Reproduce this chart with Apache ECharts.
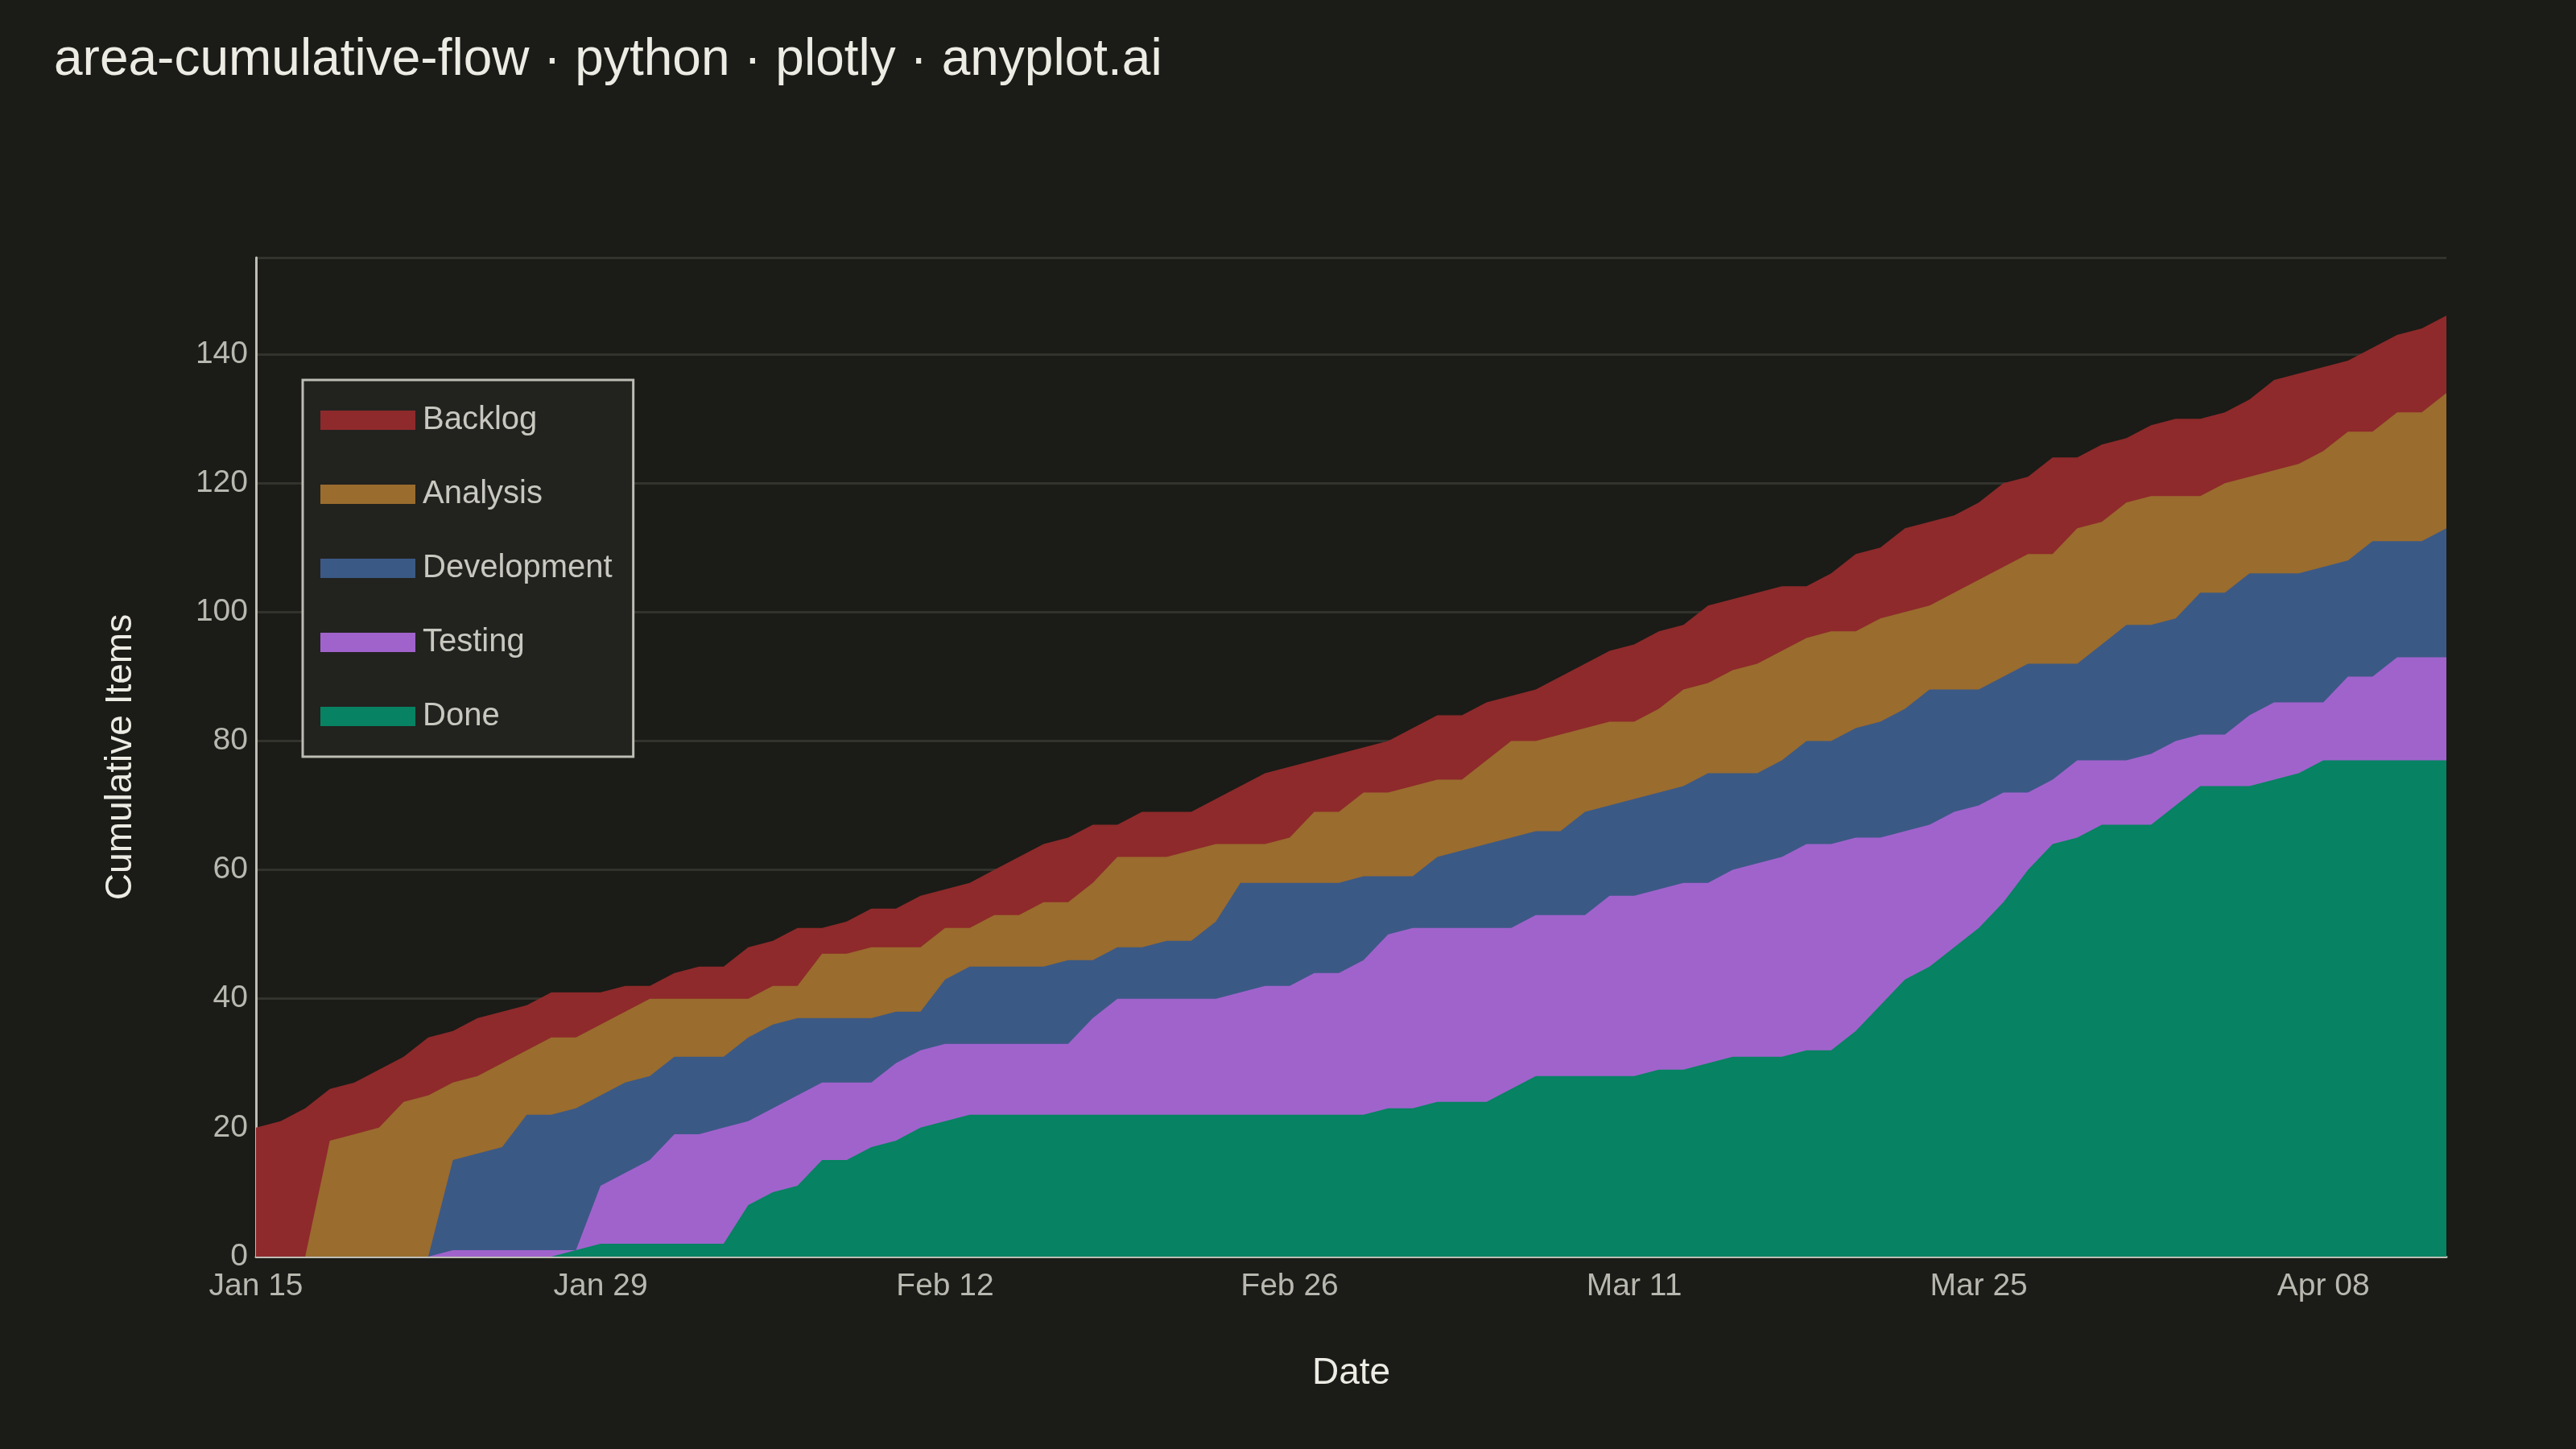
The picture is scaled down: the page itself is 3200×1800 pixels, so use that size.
<!DOCTYPE html>
<html>
<head>
<meta charset="utf-8">
<script src="https://cdn.jsdelivr.net/npm/echarts@6/dist/echarts.min.js"></script>
<style>
  html, body { margin: 0; padding: 0; background: #1B1B17; }
  #chart { width: 3200px; height: 1800px; }
</style>
</head>
<body>
<div id="chart"></div>
<script>
// daily dates, Jan 15 .. Apr 13 (90 days)
var startDate = new Date(2024, 0, 15);
var dayCount = 90;
var monthNames = ['Jan','Feb','Mar','Apr','May','Jun','Jul','Aug','Sep','Oct','Nov','Dec'];

// cumulative boundaries (top edge of each band)
var totalTop = [20,21,23,26,27,29,31,34,35,37,38,39,41,41,41,42,42,44,45,45,
  48,49,51,51,52,54,54,56,57,58,60,62,64,65,67,67,69,69,69,71,
  73,75,76,77,78,79,80,82,84,84,86,87,88,90,92,94,95,97,98,101,
  102,103,104,104,106,109,110,113,114,115,117,120,121,124,124,126,127,129,130,130,
  131,133,136,137,138,139,141,143,144,146];
var analysisTop = [0,0,0,18,19,20,24,25,27,28,30,32,34,34,36,38,40,40,40,40,
  40,42,42,47,47,48,48,48,51,51,53,53,55,55,58,62,62,62,63,64,
  64,64,65,69,69,72,72,73,74,74,77,80,80,81,82,83,83,85,88,89,
  91,92,94,96,97,97,99,100,101,103,105,107,109,109,113,114,117,118,118,118,
  120,121,122,123,125,128,128,131,131,134];
var developmentTop = [0,0,0,0,0,0,0,0,15,16,17,22,22,23,25,27,28,31,31,31,
  34,36,37,37,37,37,38,38,43,45,45,45,45,46,46,48,48,49,49,52,
  58,58,58,58,58,59,59,59,62,63,64,65,66,66,69,70,71,72,73,75,
  75,75,77,80,80,82,83,85,88,88,88,90,92,92,92,95,98,98,99,103,
  103,106,106,106,107,108,111,111,111,113];
var testingTop = [0,0,0,0,0,0,0,0,1,1,1,1,1,1,11,13,15,19,19,20,
  21,23,25,27,27,27,30,32,33,33,33,33,33,33,37,40,40,40,40,40,
  41,42,42,44,44,46,50,51,51,51,51,51,53,53,53,56,56,57,58,58,
  60,61,62,64,64,65,65,66,67,69,70,72,72,74,77,77,77,78,80,81,
  81,84,86,86,86,90,90,93,93,93];
var doneTop = [0,0,0,0,0,0,0,0,0,0,0,0,0,1,2,2,2,2,2,2,
  8,10,11,15,15,17,18,20,21,22,22,22,22,22,22,22,22,22,22,22,
  22,22,22,22,22,22,23,23,24,24,24,26,28,28,28,28,28,29,29,30,
  31,31,31,32,32,35,39,43,45,48,51,55,60,64,65,67,67,67,70,73,
  73,73,74,75,77,77,77,77,77,77];

var stageNames = ['Backlog', 'Analysis', 'Development', 'Testing', 'Done'];
var stageColors = ['#8E2A2B', '#9A6C2E', '#3B5985', '#A063CC', '#078262'];
var stageData = [totalTop, analysisTop, developmentTop, testingTop, doneTop];

var dates = [];
for (var i = 0; i < dayCount; i++) {
  var d = new Date(startDate.getTime() + i * 86400000);
  dates.push(monthNames[d.getMonth()] + ' ' + (d.getDate() < 10 ? '0' : '') + d.getDate());
}

// each band is an area filled down to zero, drawn back (total) to front (done)
var series = [];
for (var s = 0; s < stageNames.length; s++) {
  series.push({
    name: stageNames[s],
    type: 'line',
    data: stageData[s],
    symbol: 'none',
    z: 2 + s,
    lineStyle: { width: 0 },
    areaStyle: { color: stageColors[s], opacity: 1 },
    itemStyle: { color: stageColors[s] }
  });
}

var myChart = echarts.init(document.getElementById('chart'));
myChart.setOption({
  backgroundColor: '#1B1B17',
  animation: false,
  title: {
    text: 'area-cumulative-flow · python · plotly · anyplot.ai',
    left: 62, top: 38,
    textStyle: { color: '#ECECE4', fontSize: 64, fontWeight: 'normal', fontFamily: 'Liberation Sans' }
  },
  legend: {
    orient: 'vertical',
    left: 376, top: 472,
    padding: [30, 26, 30, 22],
    backgroundColor: '#22221F',
    borderColor: '#BDBDB5',
    borderWidth: 3,
    icon: 'rect',
    itemWidth: 118, itemHeight: 24,
    itemGap: 52,
    textStyle: { color: '#C8C8C0', fontSize: 40, fontFamily: 'Liberation Sans', padding: [0, 0, 0, 4] },
    data: stageNames
  },
  grid: { left: 318, right: 161, top: 320, bottom: 239, containLabel: false },
  xAxis: {
    type: 'category',
    data: dates,
    boundaryGap: false,
    name: 'Date',
    nameLocation: 'middle',
    nameGap: 122,
    nameTextStyle: { color: '#ECECE4', fontSize: 46, fontFamily: 'Liberation Sans' },
    axisLine: { lineStyle: { color: '#BDBDB5', width: 3 } },
    axisTick: { show: false },
    axisLabel: { interval: 13, color: '#B8B8B0', fontSize: 39, margin: 18, fontFamily: 'Liberation Sans' },
    splitLine: { show: false }
  },
  yAxis: {
    type: 'value',
    min: 0, max: 155, interval: 20,
    name: 'Cumulative Items',
    nameLocation: 'middle',
    nameGap: 145,
    nameTextStyle: { color: '#ECECE4', fontSize: 46, fontFamily: 'Liberation Sans' },
    axisLine: { show: true, lineStyle: { color: '#BDBDB5', width: 3 } },
    axisTick: { show: false },
    axisLabel: { color: '#B8B8B0', fontSize: 39, margin: 10, fontFamily: 'Liberation Sans',
      formatter: function (v) { return v % 20 === 0 ? v : ''; } },
    splitLine: { lineStyle: { color: '#33332E', width: 3 } }
  },
  series: series
});
</script>
</body>
</html>
